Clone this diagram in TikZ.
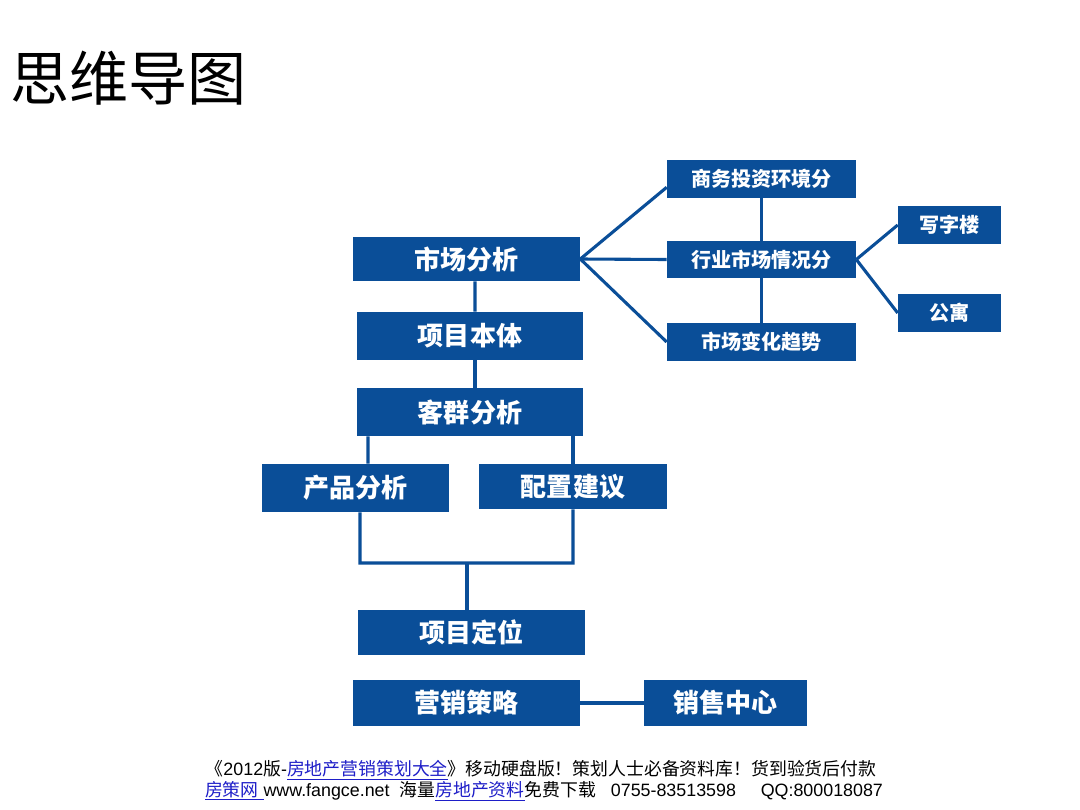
\documentclass[tikz,border=0pt]{standalone}
\usepackage{fontspec}
\setmainfont{Liberation Sans}
\newfontfamily\cjk{Noto Sans CJK SC}
\definecolor{boxblue}{RGB}{10,78,152}
\definecolor{linkblue}{RGB}{30,30,200}
\begin{document}
\begin{tikzpicture}[x=0.025cm,y=-0.025cm,
  box/.style={fill=boxblue,text=white,inner sep=0pt,font=\cjk\bfseries},
  bigbox/.style={box,font=\cjk\bfseries\fontsize{18.5}{20}\selectfont},
  smallbox/.style={box,font=\cjk\bfseries\fontsize{14.3}{16}\selectfont},
  link/.style={draw=boxblue,line width=2.2pt}]
\useasboundingbox[fill=white] (0,0) rectangle (1080,810);
% title
\node[anchor=west,inner sep=0pt,font=\cjk\fontsize{42}{46}\selectfont] (title) at (10,78) {思维导图};
% main column
\node[bigbox,minimum width=5.675cm,minimum height=1.1cm] (sc) at (466.5,259) {市场分析};
\node[bigbox,minimum width=5.65cm,minimum height=1.2cm] (xm) at (470,336) {项目本体};
\node[bigbox,minimum width=5.65cm,minimum height=1.2cm] (kq) at (470,412) {客群分析};
\node[bigbox,minimum width=4.675cm,minimum height=1.2cm] (cp) at (355.5,488) {产品分析};
\node[bigbox,minimum width=4.7cm,minimum height=1.125cm] (pz) at (573,486.5) {配置建议};
\node[bigbox,minimum width=5.675cm,minimum height=1.125cm] (dw) at (471.5,632.5) {项目定位};
\node[bigbox,minimum width=5.675cm,minimum height=1.15cm] (yx) at (466.5,703) {营销策略};
\node[bigbox,minimum width=4.075cm,minimum height=1.15cm] (xs) at (725.5,703) {销售中心};
% right branch
\node[smallbox,minimum width=4.725cm,minimum height=0.95cm] (sw) at (761.5,179) {商务投资环境分};
\node[smallbox,minimum width=4.725cm,minimum height=0.925cm] (hy) at (761.5,259.5) {行业市场情况分};
\node[smallbox,minimum width=4.725cm,minimum height=0.95cm] (bh) at (761.5,342) {市场变化趋势};
\node[smallbox,minimum width=2.575cm,minimum height=0.95cm] (xz) at (949.5,225) {写字楼};
\node[smallbox,minimum width=2.575cm,minimum height=0.95cm] (gy) at (949.5,313) {公寓};
% connectors
\draw[link] ([xshift=8.5*0.025cm]sc.south) -- ([xshift=5*0.025cm]xm.north);
\draw[link] ([xshift=5*0.025cm]xm.south) -- ([xshift=5*0.025cm]kq.north);
\draw[link] ([xshift=-102*0.025cm]kq.south) -- ([xshift=12.5*0.025cm]cp.north);
\draw[link] ([xshift=103*0.025cm]kq.south) -- (pz.north);
\coordinate (jl) at (360,563);
\coordinate (jr) at (573,563);
\coordinate (jm) at (467,563);
\draw[link] ([xshift=4.5*0.025cm]cp.south) -- (jl) -- (jr) -- (pz.south);
\draw[link] (jm) -- ([xshift=-4.5*0.025cm]dw.north);
\draw[link] (yx.east) -- (xs.west);
\draw[link] (sc.east) -- ([yshift=11*0.025cm]sw.south west);
\draw[link] (sc.east) -- (hy.west);
\draw[link] (sc.east) -- (bh.west);
\draw[link] (sw.south) -- (hy.north);
\draw[link] (hy.south) -- (bh.north);
\draw[link] (hy.east) -- (xz.west);
\draw[link] (hy.east) -- (gy.west);
% footer
\node[inner sep=0pt,font=\fontsize{12.7}{14}\selectfont] (f1) at (541,770)
  {{\cjk 《}2012{\cjk 版}-{\color{linkblue}\underline{\cjk 房地产营销策划大全}}{\cjk 》移动硬盘版！策划人士必备资料库！货到验货后付款}};
\node[inner sep=0pt,font=\fontsize{12.7}{14}\selectfont] (f2) at (544,791)
  {{\color{linkblue}\underline{{\cjk 房策网} }}www.fangce.net\ \ {\cjk 海量}{\color{linkblue}\underline{\cjk 房地产资料}}{\cjk 免费下载}\ \ \ 0755-83513598\ \ \ \ \ QQ:800018087};
\end{tikzpicture}
\end{document}
